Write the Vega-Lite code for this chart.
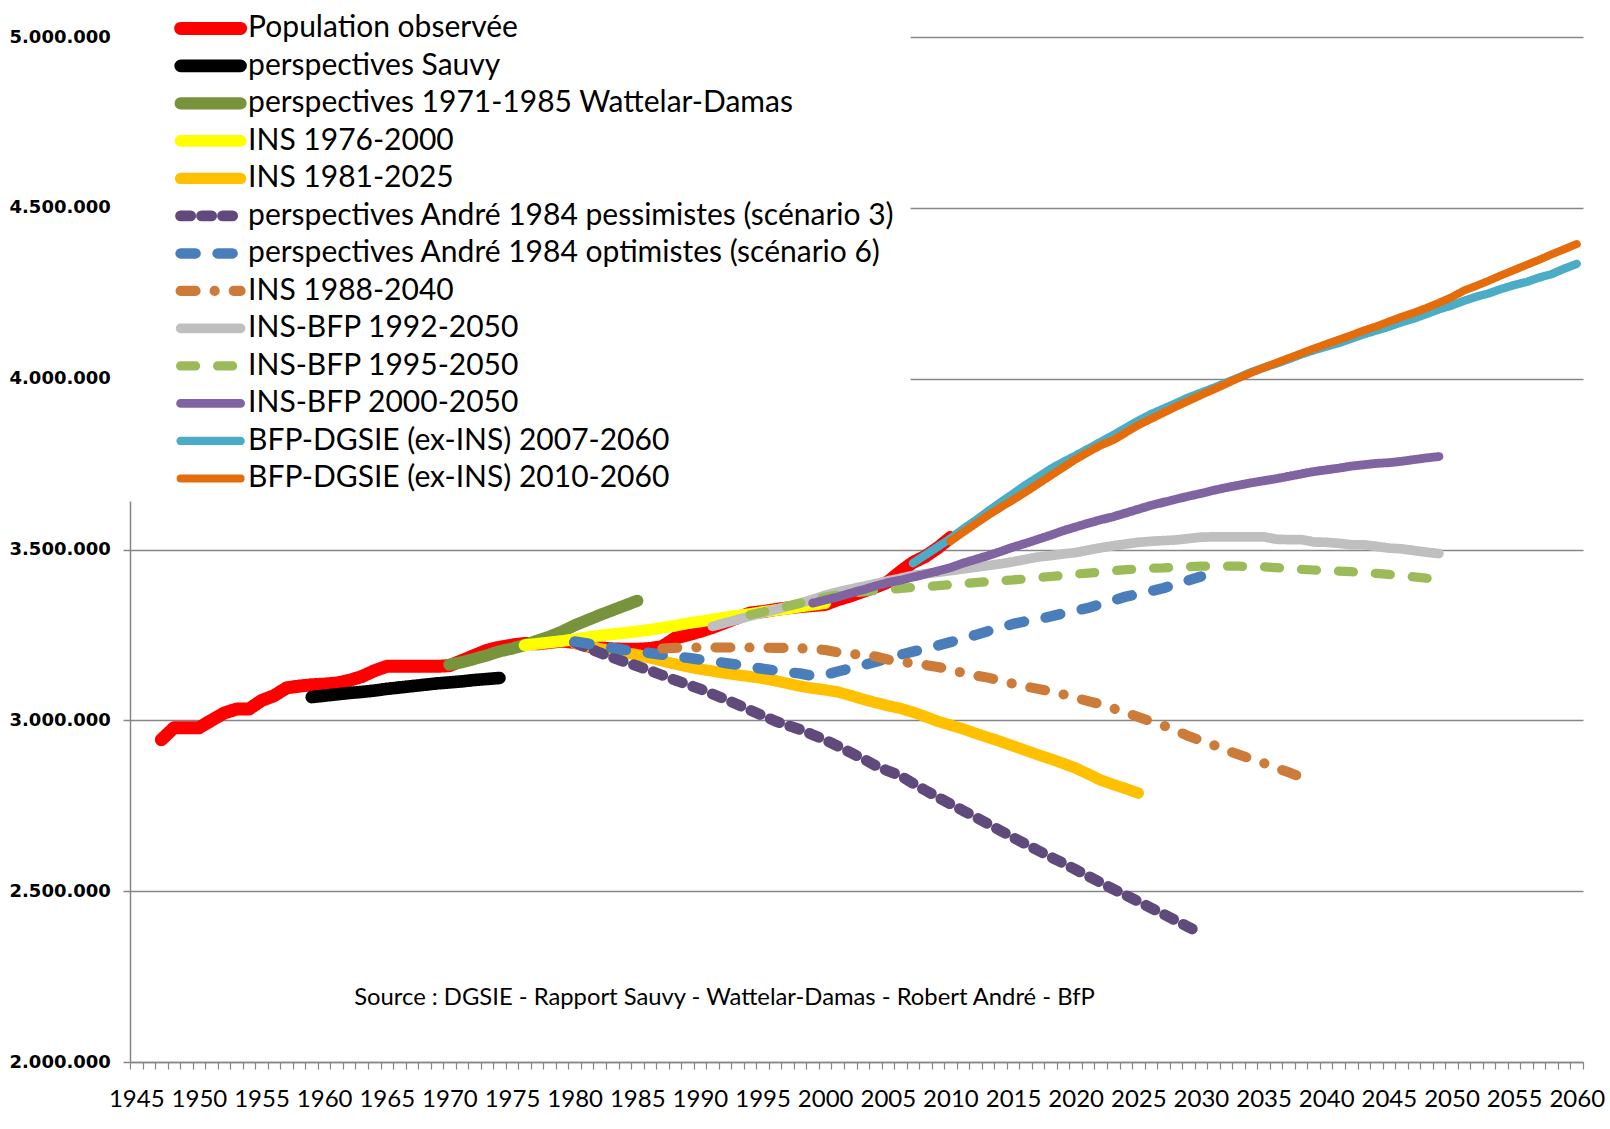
{
"$schema": "https://vega.github.io/schema/vega-lite/v6.json",
"width": 1453, "height": 1025,
"autosize": {"type": "none"},
"padding": {"left": 130, "top": 37, "right": 27, "bottom": 67},
"background": "white",
"config": {"view": {"stroke": null}, "locale": {"number": {"decimal": ",", "thousands": ".", "grouping": [3], "currency": ["", " €"]}}},
"data": {"values": [
{"s":"obs","x":1947,"v":2943000},{"s":"obs","x":1948,"v":2978000},{"s":"obs","x":1949,"v":2978000},{"s":"obs","x":1950,"v":2978000},{"s":"obs","x":1951,"v":3000000},{"s":"obs","x":1952,"v":3021000},{"s":"obs","x":1953,"v":3033000},{"s":"obs","x":1954,"v":3033000},{"s":"obs","x":1955,"v":3058000},{"s":"obs","x":1956,"v":3072000},{"s":"obs","x":1957,"v":3095000},{"s":"obs","x":1958,"v":3100000},{"s":"obs","x":1959,"v":3104000},{"s":"obs","x":1960,"v":3106000},{"s":"obs","x":1961,"v":3109000},{"s":"obs","x":1962,"v":3117000},{"s":"obs","x":1963,"v":3128000},{"s":"obs","x":1964,"v":3145000},{"s":"obs","x":1965,"v":3158000},{"s":"obs","x":1966,"v":3158000},{"s":"obs","x":1967,"v":3158000},{"s":"obs","x":1968,"v":3158000},{"s":"obs","x":1969,"v":3158000},{"s":"obs","x":1970,"v":3160000},{"s":"obs","x":1971,"v":3175000},{"s":"obs","x":1972,"v":3190000},{"s":"obs","x":1973,"v":3205000},{"s":"obs","x":1974,"v":3214000},{"s":"obs","x":1975,"v":3220000},{"s":"obs","x":1976,"v":3225000},{"s":"obs","x":1977,"v":3224000},{"s":"obs","x":1978,"v":3228000},{"s":"obs","x":1979,"v":3232000},{"s":"obs","x":1980,"v":3228000},{"s":"obs","x":1981,"v":3218000},{"s":"obs","x":1982,"v":3212000},{"s":"obs","x":1983,"v":3209000},{"s":"obs","x":1984,"v":3208000},{"s":"obs","x":1985,"v":3208000},{"s":"obs","x":1986,"v":3210000},{"s":"obs","x":1987,"v":3216000},{"s":"obs","x":1988,"v":3240000},{"s":"obs","x":1989,"v":3250000},{"s":"obs","x":1990,"v":3260000},{"s":"obs","x":1991,"v":3272000},{"s":"obs","x":1992,"v":3286000},{"s":"obs","x":1993,"v":3300000},{"s":"obs","x":1994,"v":3314000},{"s":"obs","x":1995,"v":3318000},{"s":"obs","x":1996,"v":3324000},{"s":"obs","x":1997,"v":3329000},{"s":"obs","x":1998,"v":3333000},{"s":"obs","x":1999,"v":3336000},{"s":"obs","x":2000,"v":3339000},{"s":"obs","x":2001,"v":3353000},{"s":"obs","x":2002,"v":3364000},{"s":"obs","x":2003,"v":3377000},{"s":"obs","x":2004,"v":3390000},{"s":"obs","x":2005,"v":3405000},{"s":"obs","x":2006,"v":3435000},{"s":"obs","x":2007,"v":3462000},{"s":"obs","x":2008,"v":3480000},{"s":"obs","x":2009,"v":3505000},{"s":"obs","x":2010,"v":3535000},
{"s":"sauvy","x":1959,"v":3068000},{"s":"sauvy","x":1960,"v":3072000},{"s":"sauvy","x":1961,"v":3076000},{"s":"sauvy","x":1962,"v":3080000},{"s":"sauvy","x":1963,"v":3083000},{"s":"sauvy","x":1964,"v":3087000},{"s":"sauvy","x":1965,"v":3092000},{"s":"sauvy","x":1966,"v":3096000},{"s":"sauvy","x":1967,"v":3100000},{"s":"sauvy","x":1968,"v":3104000},{"s":"sauvy","x":1969,"v":3108000},{"s":"sauvy","x":1970,"v":3111000},{"s":"sauvy","x":1971,"v":3114000},{"s":"sauvy","x":1972,"v":3118000},{"s":"sauvy","x":1973,"v":3121000},{"s":"sauvy","x":1974,"v":3124000},
{"s":"wd","x":1970,"v":3163000},{"s":"wd","x":1971,"v":3170000},{"s":"wd","x":1972,"v":3180000},{"s":"wd","x":1973,"v":3190000},{"s":"wd","x":1974,"v":3202000},{"s":"wd","x":1975,"v":3210000},{"s":"wd","x":1976,"v":3220000},{"s":"wd","x":1977,"v":3233000},{"s":"wd","x":1978,"v":3245000},{"s":"wd","x":1979,"v":3260000},{"s":"wd","x":1980,"v":3278000},{"s":"wd","x":1981,"v":3293000},{"s":"wd","x":1982,"v":3308000},{"s":"wd","x":1983,"v":3322000},{"s":"wd","x":1984,"v":3336000},{"s":"wd","x":1985,"v":3350000},
{"s":"i76","x":1976,"v":3220000},{"s":"i76","x":1977,"v":3224000},{"s":"i76","x":1978,"v":3228000},{"s":"i76","x":1979,"v":3232000},{"s":"i76","x":1980,"v":3237000},{"s":"i76","x":1981,"v":3243000},{"s":"i76","x":1982,"v":3248000},{"s":"i76","x":1983,"v":3252000},{"s":"i76","x":1984,"v":3256000},{"s":"i76","x":1985,"v":3260000},{"s":"i76","x":1986,"v":3265000},{"s":"i76","x":1987,"v":3271000},{"s":"i76","x":1988,"v":3277000},{"s":"i76","x":1989,"v":3284000},{"s":"i76","x":1990,"v":3289000},{"s":"i76","x":1991,"v":3295000},{"s":"i76","x":1992,"v":3301000},{"s":"i76","x":1993,"v":3306000},{"s":"i76","x":1994,"v":3311000},{"s":"i76","x":1995,"v":3317000},{"s":"i76","x":1996,"v":3322000},{"s":"i76","x":1997,"v":3327000},{"s":"i76","x":1998,"v":3333000},{"s":"i76","x":1999,"v":3338000},{"s":"i76","x":2000,"v":3343000},
{"s":"i81","x":1980,"v":3226000},{"s":"i81","x":1981,"v":3218000},{"s":"i81","x":1982,"v":3210000},{"s":"i81","x":1983,"v":3203000},{"s":"i81","x":1984,"v":3197000},{"s":"i81","x":1985,"v":3192000},{"s":"i81","x":1986,"v":3183000},{"s":"i81","x":1987,"v":3174000},{"s":"i81","x":1988,"v":3165000},{"s":"i81","x":1989,"v":3157000},{"s":"i81","x":1990,"v":3150000},{"s":"i81","x":1991,"v":3144000},{"s":"i81","x":1992,"v":3138000},{"s":"i81","x":1993,"v":3133000},{"s":"i81","x":1994,"v":3128000},{"s":"i81","x":1995,"v":3123000},{"s":"i81","x":1996,"v":3116000},{"s":"i81","x":1997,"v":3108000},{"s":"i81","x":1998,"v":3100000},{"s":"i81","x":1999,"v":3094000},{"s":"i81","x":2000,"v":3089000},{"s":"i81","x":2001,"v":3083000},{"s":"i81","x":2002,"v":3073000},{"s":"i81","x":2003,"v":3062000},{"s":"i81","x":2004,"v":3052000},{"s":"i81","x":2005,"v":3043000},{"s":"i81","x":2006,"v":3035000},{"s":"i81","x":2007,"v":3024000},{"s":"i81","x":2008,"v":3011000},{"s":"i81","x":2009,"v":2997000},{"s":"i81","x":2010,"v":2986000},{"s":"i81","x":2011,"v":2975000},{"s":"i81","x":2012,"v":2962000},{"s":"i81","x":2013,"v":2950000},{"s":"i81","x":2014,"v":2938000},{"s":"i81","x":2015,"v":2925000},{"s":"i81","x":2016,"v":2912000},{"s":"i81","x":2017,"v":2899000},{"s":"i81","x":2018,"v":2887000},{"s":"i81","x":2019,"v":2874000},{"s":"i81","x":2020,"v":2860000},{"s":"i81","x":2021,"v":2843000},{"s":"i81","x":2022,"v":2825000},{"s":"i81","x":2023,"v":2812000},{"s":"i81","x":2024,"v":2800000},{"s":"i81","x":2025,"v":2787000},
{"s":"a3","x":1980,"v":3228000},{"s":"a3","x":1981,"v":3213000},{"s":"a3","x":1982,"v":3198000},{"s":"a3","x":1983,"v":3184000},{"s":"a3","x":1984,"v":3171000},{"s":"a3","x":1985,"v":3159000},{"s":"a3","x":1986,"v":3146000},{"s":"a3","x":1987,"v":3132000},{"s":"a3","x":1988,"v":3118000},{"s":"a3","x":1989,"v":3105000},{"s":"a3","x":1990,"v":3092000},{"s":"a3","x":1991,"v":3077000},{"s":"a3","x":1992,"v":3062000},{"s":"a3","x":1993,"v":3046000},{"s":"a3","x":1994,"v":3030000},{"s":"a3","x":1995,"v":3014000},{"s":"a3","x":1996,"v":2998000},{"s":"a3","x":1997,"v":2985000},{"s":"a3","x":1998,"v":2973000},{"s":"a3","x":1999,"v":2958000},{"s":"a3","x":2000,"v":2942000},{"s":"a3","x":2001,"v":2925000},{"s":"a3","x":2002,"v":2906000},{"s":"a3","x":2003,"v":2888000},{"s":"a3","x":2004,"v":2868000},{"s":"a3","x":2005,"v":2852000},{"s":"a3","x":2006,"v":2838000},{"s":"a3","x":2007,"v":2816000},{"s":"a3","x":2008,"v":2795000},{"s":"a3","x":2009,"v":2775000},{"s":"a3","x":2010,"v":2755000},{"s":"a3","x":2011,"v":2736000},{"s":"a3","x":2012,"v":2717000},{"s":"a3","x":2013,"v":2697000},{"s":"a3","x":2014,"v":2677000},{"s":"a3","x":2015,"v":2657000},{"s":"a3","x":2016,"v":2638000},{"s":"a3","x":2017,"v":2619000},{"s":"a3","x":2018,"v":2600000},{"s":"a3","x":2019,"v":2582000},{"s":"a3","x":2020,"v":2563000},{"s":"a3","x":2021,"v":2544000},{"s":"a3","x":2022,"v":2525000},{"s":"a3","x":2023,"v":2506000},{"s":"a3","x":2024,"v":2488000},{"s":"a3","x":2025,"v":2470000},{"s":"a3","x":2026,"v":2451000},{"s":"a3","x":2027,"v":2433000},{"s":"a3","x":2028,"v":2414000},{"s":"a3","x":2029,"v":2395000},{"s":"a3","x":2030,"v":2377000},
{"s":"a6","x":1980,"v":3231000},{"s":"a6","x":1981,"v":3225000},{"s":"a6","x":1982,"v":3219000},{"s":"a6","x":1983,"v":3212000},{"s":"a6","x":1984,"v":3206000},{"s":"a6","x":1985,"v":3201000},{"s":"a6","x":1986,"v":3197000},{"s":"a6","x":1987,"v":3192000},{"s":"a6","x":1988,"v":3187000},{"s":"a6","x":1989,"v":3183000},{"s":"a6","x":1990,"v":3178000},{"s":"a6","x":1991,"v":3173000},{"s":"a6","x":1992,"v":3168000},{"s":"a6","x":1993,"v":3163000},{"s":"a6","x":1994,"v":3157000},{"s":"a6","x":1995,"v":3151000},{"s":"a6","x":1996,"v":3146000},{"s":"a6","x":1997,"v":3141000},{"s":"a6","x":1998,"v":3137000},{"s":"a6","x":1999,"v":3130000},{"s":"a6","x":2000,"v":3133000},{"s":"a6","x":2001,"v":3143000},{"s":"a6","x":2002,"v":3152000},{"s":"a6","x":2003,"v":3161000},{"s":"a6","x":2004,"v":3171000},{"s":"a6","x":2005,"v":3182000},{"s":"a6","x":2006,"v":3192000},{"s":"a6","x":2007,"v":3201000},{"s":"a6","x":2008,"v":3210000},{"s":"a6","x":2009,"v":3219000},{"s":"a6","x":2010,"v":3229000},{"s":"a6","x":2011,"v":3239000},{"s":"a6","x":2012,"v":3250000},{"s":"a6","x":2013,"v":3261000},{"s":"a6","x":2014,"v":3272000},{"s":"a6","x":2015,"v":3282000},{"s":"a6","x":2016,"v":3290000},{"s":"a6","x":2017,"v":3296000},{"s":"a6","x":2018,"v":3304000},{"s":"a6","x":2019,"v":3313000},{"s":"a6","x":2020,"v":3321000},{"s":"a6","x":2021,"v":3329000},{"s":"a6","x":2022,"v":3340000},{"s":"a6","x":2023,"v":3351000},{"s":"a6","x":2024,"v":3362000},{"s":"a6","x":2025,"v":3370000},{"s":"a6","x":2026,"v":3378000},{"s":"a6","x":2027,"v":3387000},{"s":"a6","x":2028,"v":3398000},{"s":"a6","x":2029,"v":3410000},{"s":"a6","x":2030,"v":3421000},
{"s":"i88","x":1987,"v":3210000},{"s":"i88","x":1988,"v":3212000},{"s":"i88","x":1989,"v":3213000},{"s":"i88","x":1990,"v":3213000},{"s":"i88","x":1991,"v":3213000},{"s":"i88","x":1992,"v":3213000},{"s":"i88","x":1993,"v":3213000},{"s":"i88","x":1994,"v":3213000},{"s":"i88","x":1995,"v":3213000},{"s":"i88","x":1996,"v":3212000},{"s":"i88","x":1997,"v":3212000},{"s":"i88","x":1998,"v":3211000},{"s":"i88","x":1999,"v":3209000},{"s":"i88","x":2000,"v":3206000},{"s":"i88","x":2001,"v":3199000},{"s":"i88","x":2002,"v":3195000},{"s":"i88","x":2003,"v":3191000},{"s":"i88","x":2004,"v":3187000},{"s":"i88","x":2005,"v":3178000},{"s":"i88","x":2006,"v":3171000},{"s":"i88","x":2007,"v":3167000},{"s":"i88","x":2008,"v":3162000},{"s":"i88","x":2009,"v":3156000},{"s":"i88","x":2010,"v":3148000},{"s":"i88","x":2011,"v":3139000},{"s":"i88","x":2012,"v":3131000},{"s":"i88","x":2013,"v":3125000},{"s":"i88","x":2014,"v":3116000},{"s":"i88","x":2015,"v":3107000},{"s":"i88","x":2016,"v":3099000},{"s":"i88","x":2017,"v":3092000},{"s":"i88","x":2018,"v":3085000},{"s":"i88","x":2019,"v":3076000},{"s":"i88","x":2020,"v":3066000},{"s":"i88","x":2021,"v":3056000},{"s":"i88","x":2022,"v":3047000},{"s":"i88","x":2023,"v":3035000},{"s":"i88","x":2024,"v":3022000},{"s":"i88","x":2025,"v":3010000},{"s":"i88","x":2026,"v":2997000},{"s":"i88","x":2027,"v":2985000},{"s":"i88","x":2028,"v":2970000},{"s":"i88","x":2029,"v":2954000},{"s":"i88","x":2030,"v":2941000},{"s":"i88","x":2031,"v":2928000},{"s":"i88","x":2032,"v":2913000},{"s":"i88","x":2033,"v":2900000},{"s":"i88","x":2034,"v":2887000},{"s":"i88","x":2035,"v":2875000},{"s":"i88","x":2036,"v":2861000},{"s":"i88","x":2037,"v":2848000},{"s":"i88","x":2038,"v":2834000},
{"s":"b92","x":1991,"v":3275000},{"s":"b92","x":1992,"v":3285000},{"s":"b92","x":1993,"v":3295000},{"s":"b92","x":1994,"v":3305000},{"s":"b92","x":1995,"v":3315000},{"s":"b92","x":1996,"v":3324000},{"s":"b92","x":1997,"v":3334000},{"s":"b92","x":1998,"v":3343000},{"s":"b92","x":1999,"v":3354000},{"s":"b92","x":2000,"v":3366000},{"s":"b92","x":2001,"v":3376000},{"s":"b92","x":2002,"v":3384000},{"s":"b92","x":2003,"v":3392000},{"s":"b92","x":2004,"v":3400000},{"s":"b92","x":2005,"v":3408000},{"s":"b92","x":2006,"v":3416000},{"s":"b92","x":2007,"v":3424000},{"s":"b92","x":2008,"v":3429000},{"s":"b92","x":2009,"v":3433000},{"s":"b92","x":2010,"v":3438000},{"s":"b92","x":2011,"v":3443000},{"s":"b92","x":2012,"v":3448000},{"s":"b92","x":2013,"v":3453000},{"s":"b92","x":2014,"v":3458000},{"s":"b92","x":2015,"v":3464000},{"s":"b92","x":2016,"v":3471000},{"s":"b92","x":2017,"v":3478000},{"s":"b92","x":2018,"v":3482000},{"s":"b92","x":2019,"v":3487000},{"s":"b92","x":2020,"v":3491000},{"s":"b92","x":2021,"v":3498000},{"s":"b92","x":2022,"v":3505000},{"s":"b92","x":2023,"v":3511000},{"s":"b92","x":2024,"v":3516000},{"s":"b92","x":2025,"v":3521000},{"s":"b92","x":2026,"v":3524000},{"s":"b92","x":2027,"v":3526000},{"s":"b92","x":2028,"v":3528000},{"s":"b92","x":2029,"v":3532000},{"s":"b92","x":2030,"v":3536000},{"s":"b92","x":2031,"v":3537000},{"s":"b92","x":2032,"v":3537000},{"s":"b92","x":2033,"v":3537000},{"s":"b92","x":2034,"v":3537000},{"s":"b92","x":2035,"v":3537000},{"s":"b92","x":2036,"v":3530000},{"s":"b92","x":2037,"v":3529000},{"s":"b92","x":2038,"v":3529000},{"s":"b92","x":2039,"v":3522000},{"s":"b92","x":2040,"v":3521000},{"s":"b92","x":2041,"v":3518000},{"s":"b92","x":2042,"v":3514000},{"s":"b92","x":2043,"v":3514000},{"s":"b92","x":2044,"v":3509000},{"s":"b92","x":2045,"v":3504000},{"s":"b92","x":2046,"v":3502000},{"s":"b92","x":2047,"v":3497000},{"s":"b92","x":2048,"v":3492000},{"s":"b92","x":2049,"v":3488000},
{"s":"b95","x":1994,"v":3309000},{"s":"b95","x":1995,"v":3317000},{"s":"b95","x":1996,"v":3326000},{"s":"b95","x":1997,"v":3334000},{"s":"b95","x":1998,"v":3343000},{"s":"b95","x":1999,"v":3352000},{"s":"b95","x":2000,"v":3361000},{"s":"b95","x":2001,"v":3367000},{"s":"b95","x":2002,"v":3372000},{"s":"b95","x":2003,"v":3376000},{"s":"b95","x":2004,"v":3380000},{"s":"b95","x":2005,"v":3383000},{"s":"b95","x":2006,"v":3386000},{"s":"b95","x":2007,"v":3389000},{"s":"b95","x":2008,"v":3392000},{"s":"b95","x":2009,"v":3394000},{"s":"b95","x":2010,"v":3397000},{"s":"b95","x":2011,"v":3400000},{"s":"b95","x":2012,"v":3403000},{"s":"b95","x":2013,"v":3406000},{"s":"b95","x":2014,"v":3409000},{"s":"b95","x":2015,"v":3411000},{"s":"b95","x":2016,"v":3414000},{"s":"b95","x":2017,"v":3418000},{"s":"b95","x":2018,"v":3421000},{"s":"b95","x":2019,"v":3424000},{"s":"b95","x":2020,"v":3428000},{"s":"b95","x":2021,"v":3431000},{"s":"b95","x":2022,"v":3434000},{"s":"b95","x":2023,"v":3438000},{"s":"b95","x":2024,"v":3441000},{"s":"b95","x":2025,"v":3443000},{"s":"b95","x":2026,"v":3445000},{"s":"b95","x":2027,"v":3446000},{"s":"b95","x":2028,"v":3448000},{"s":"b95","x":2029,"v":3450000},{"s":"b95","x":2030,"v":3451000},{"s":"b95","x":2031,"v":3451000},{"s":"b95","x":2032,"v":3451000},{"s":"b95","x":2033,"v":3451000},{"s":"b95","x":2034,"v":3450000},{"s":"b95","x":2035,"v":3449000},{"s":"b95","x":2036,"v":3447000},{"s":"b95","x":2037,"v":3445000},{"s":"b95","x":2038,"v":3442000},{"s":"b95","x":2039,"v":3440000},{"s":"b95","x":2040,"v":3438000},{"s":"b95","x":2041,"v":3437000},{"s":"b95","x":2042,"v":3435000},{"s":"b95","x":2043,"v":3432000},{"s":"b95","x":2044,"v":3430000},{"s":"b95","x":2045,"v":3427000},{"s":"b95","x":2046,"v":3423000},{"s":"b95","x":2047,"v":3420000},{"s":"b95","x":2048,"v":3416000},{"s":"b95","x":2049,"v":3413000},
{"s":"b00","x":1999,"v":3343000},{"s":"b00","x":2000,"v":3352000},{"s":"b00","x":2001,"v":3361000},{"s":"b00","x":2002,"v":3372000},{"s":"b00","x":2003,"v":3382000},{"s":"b00","x":2004,"v":3393000},{"s":"b00","x":2005,"v":3403000},{"s":"b00","x":2006,"v":3410000},{"s":"b00","x":2007,"v":3419000},{"s":"b00","x":2008,"v":3428000},{"s":"b00","x":2009,"v":3437000},{"s":"b00","x":2010,"v":3447000},{"s":"b00","x":2011,"v":3460000},{"s":"b00","x":2012,"v":3471000},{"s":"b00","x":2013,"v":3482000},{"s":"b00","x":2014,"v":3494000},{"s":"b00","x":2015,"v":3507000},{"s":"b00","x":2016,"v":3518000},{"s":"b00","x":2017,"v":3530000},{"s":"b00","x":2018,"v":3542000},{"s":"b00","x":2019,"v":3555000},{"s":"b00","x":2020,"v":3566000},{"s":"b00","x":2021,"v":3577000},{"s":"b00","x":2022,"v":3587000},{"s":"b00","x":2023,"v":3596000},{"s":"b00","x":2024,"v":3607000},{"s":"b00","x":2025,"v":3618000},{"s":"b00","x":2026,"v":3629000},{"s":"b00","x":2027,"v":3638000},{"s":"b00","x":2028,"v":3647000},{"s":"b00","x":2029,"v":3656000},{"s":"b00","x":2030,"v":3664000},{"s":"b00","x":2031,"v":3673000},{"s":"b00","x":2032,"v":3681000},{"s":"b00","x":2033,"v":3688000},{"s":"b00","x":2034,"v":3695000},{"s":"b00","x":2035,"v":3701000},{"s":"b00","x":2036,"v":3707000},{"s":"b00","x":2037,"v":3714000},{"s":"b00","x":2038,"v":3721000},{"s":"b00","x":2039,"v":3728000},{"s":"b00","x":2040,"v":3733000},{"s":"b00","x":2041,"v":3738000},{"s":"b00","x":2042,"v":3744000},{"s":"b00","x":2043,"v":3748000},{"s":"b00","x":2044,"v":3752000},{"s":"b00","x":2045,"v":3754000},{"s":"b00","x":2046,"v":3758000},{"s":"b00","x":2047,"v":3763000},{"s":"b00","x":2048,"v":3768000},{"s":"b00","x":2049,"v":3772000},
{"s":"b07","x":2007,"v":3460000},{"s":"b07","x":2008,"v":3484000},{"s":"b07","x":2009,"v":3508000},{"s":"b07","x":2010,"v":3532000},{"s":"b07","x":2011,"v":3560000},{"s":"b07","x":2012,"v":3585000},{"s":"b07","x":2013,"v":3612000},{"s":"b07","x":2014,"v":3638000},{"s":"b07","x":2015,"v":3663000},{"s":"b07","x":2016,"v":3689000},{"s":"b07","x":2017,"v":3712000},{"s":"b07","x":2018,"v":3736000},{"s":"b07","x":2019,"v":3756000},{"s":"b07","x":2020,"v":3775000},{"s":"b07","x":2021,"v":3795000},{"s":"b07","x":2022,"v":3815000},{"s":"b07","x":2023,"v":3835000},{"s":"b07","x":2024,"v":3856000},{"s":"b07","x":2025,"v":3877000},{"s":"b07","x":2026,"v":3896000},{"s":"b07","x":2027,"v":3912000},{"s":"b07","x":2028,"v":3928000},{"s":"b07","x":2029,"v":3945000},{"s":"b07","x":2030,"v":3959000},{"s":"b07","x":2031,"v":3973000},{"s":"b07","x":2032,"v":3988000},{"s":"b07","x":2033,"v":4003000},{"s":"b07","x":2034,"v":4019000},{"s":"b07","x":2035,"v":4032000},{"s":"b07","x":2036,"v":4044000},{"s":"b07","x":2037,"v":4057000},{"s":"b07","x":2038,"v":4071000},{"s":"b07","x":2039,"v":4083000},{"s":"b07","x":2040,"v":4094000},{"s":"b07","x":2041,"v":4104000},{"s":"b07","x":2042,"v":4117000},{"s":"b07","x":2043,"v":4130000},{"s":"b07","x":2044,"v":4141000},{"s":"b07","x":2045,"v":4152000},{"s":"b07","x":2046,"v":4165000},{"s":"b07","x":2047,"v":4176000},{"s":"b07","x":2048,"v":4189000},{"s":"b07","x":2049,"v":4203000},{"s":"b07","x":2050,"v":4214000},{"s":"b07","x":2051,"v":4228000},{"s":"b07","x":2052,"v":4240000},{"s":"b07","x":2053,"v":4250000},{"s":"b07","x":2054,"v":4263000},{"s":"b07","x":2055,"v":4274000},{"s":"b07","x":2056,"v":4283000},{"s":"b07","x":2057,"v":4296000},{"s":"b07","x":2058,"v":4306000},{"s":"b07","x":2059,"v":4322000},{"s":"b07","x":2060,"v":4336000},
{"s":"b10","x":2010,"v":3524000},{"s":"b10","x":2011,"v":3550000},{"s":"b10","x":2012,"v":3575000},{"s":"b10","x":2013,"v":3600000},{"s":"b10","x":2014,"v":3623000},{"s":"b10","x":2015,"v":3645000},{"s":"b10","x":2016,"v":3668000},{"s":"b10","x":2017,"v":3692000},{"s":"b10","x":2018,"v":3716000},{"s":"b10","x":2019,"v":3740000},{"s":"b10","x":2020,"v":3764000},{"s":"b10","x":2021,"v":3785000},{"s":"b10","x":2022,"v":3805000},{"s":"b10","x":2023,"v":3820000},{"s":"b10","x":2024,"v":3842000},{"s":"b10","x":2025,"v":3864000},{"s":"b10","x":2026,"v":3882000},{"s":"b10","x":2027,"v":3900000},{"s":"b10","x":2028,"v":3918000},{"s":"b10","x":2029,"v":3935000},{"s":"b10","x":2030,"v":3952000},{"s":"b10","x":2031,"v":3968000},{"s":"b10","x":2032,"v":3985000},{"s":"b10","x":2033,"v":4002000},{"s":"b10","x":2034,"v":4017000},{"s":"b10","x":2035,"v":4032000},{"s":"b10","x":2036,"v":4046000},{"s":"b10","x":2037,"v":4060000},{"s":"b10","x":2038,"v":4074000},{"s":"b10","x":2039,"v":4088000},{"s":"b10","x":2040,"v":4101000},{"s":"b10","x":2041,"v":4114000},{"s":"b10","x":2042,"v":4127000},{"s":"b10","x":2043,"v":4141000},{"s":"b10","x":2044,"v":4153000},{"s":"b10","x":2045,"v":4167000},{"s":"b10","x":2046,"v":4181000},{"s":"b10","x":2047,"v":4193000},{"s":"b10","x":2048,"v":4207000},{"s":"b10","x":2049,"v":4222000},{"s":"b10","x":2050,"v":4238000},{"s":"b10","x":2051,"v":4258000},{"s":"b10","x":2052,"v":4272000},{"s":"b10","x":2053,"v":4287000},{"s":"b10","x":2054,"v":4303000},{"s":"b10","x":2055,"v":4318000},{"s":"b10","x":2056,"v":4333000},{"s":"b10","x":2057,"v":4348000},{"s":"b10","x":2058,"v":4364000},{"s":"b10","x":2059,"v":4379000},{"s":"b10","x":2060,"v":4394000}
]},
"layer": [
{"mark": {"type": "line", "strokeCap": "round", "strokeJoin": "round"},
 "encoding": {
  "x": {"field": "x", "type": "quantitative",
   "scale": {"domain": [1944.5, 2060.5], "nice": false, "zero": false},
   "axis": {"title": null, "grid": false, "tickCount": 300,
    "values": [1944.5,1945.5,1946.5,1947.5,1948.5,1949.5,1950.5,1951.5,1952.5,1953.5,1954.5,1955.5,1956.5,1957.5,1958.5,1959.5,1960.5,1961.5,1962.5,1963.5,1964.5,1965.5,1966.5,1967.5,1968.5,1969.5,1970.5,1971.5,1972.5,1973.5,1974.5,1975.5,1976.5,1977.5,1978.5,1979.5,1980.5,1981.5,1982.5,1983.5,1984.5,1985.5,1986.5,1987.5,1988.5,1989.5,1990.5,1991.5,1992.5,1993.5,1994.5,1995.5,1996.5,1997.5,1998.5,1999.5,2000.5,2001.5,2002.5,2003.5,2004.5,2005.5,2006.5,2007.5,2008.5,2009.5,2010.5,2011.5,2012.5,2013.5,2014.5,2015.5,2016.5,2017.5,2018.5,2019.5,2020.5,2021.5,2022.5,2023.5,2024.5,2025.5,2026.5,2027.5,2028.5,2029.5,2030.5,2031.5,2032.5,2033.5,2034.5,2035.5,2036.5,2037.5,2038.5,2039.5,2040.5,2041.5,2042.5,2043.5,2044.5,2045.5,2046.5,2047.5,2048.5,2049.5,2050.5,2051.5,2052.5,2053.5,2054.5,2055.5,2056.5,2057.5,2058.5,2059.5,2060.5],
    "labelExpr": "(datum.value + 0.5) % 5 == 0 ? format(datum.value + 0.5, 'd') : ''",
    "labelOffset": 6.26, "labelFont": "Lato", "labelFontSize": 24, "labelColor": "black",
    "labelOverlap": false, "labelFlush": false, "labelBound": false, "labelPadding": 18,
    "tickSize": 7, "tickColor": "#868686", "tickWidth": 1.2, "domainColor": "#868686", "domainWidth": 1.5}},
  "y": {"field": "v", "type": "quantitative",
   "scale": {"domain": [2000000, 5000000], "nice": false, "zero": false},
   "axis": {"title": null, "values": [2000000, 2500000, 3000000, 3500000, 4000000, 4500000, 5000000], "tickCount": 30,
    "format": ",d", "labelFont": "DejaVu Sans", "labelFontWeight": "bold", "labelFontSize": 18, "labelColor": "black",
    "labelAlign": "left", "labelBaseline": "middle", "labelPadding": 114, "labelFlush": false, "labelBound": false, "labelOverlap": false,
    "tickSize": 7, "tickColor": "#868686", "tickWidth": 1.5, "domainColor": "#868686", "domainWidth": 1.5,
    "grid": true, "gridColor": "#868686", "gridWidth": 1.5}},
  "color": {"field": "s", "type": "nominal",
   "scale": {"domain": ["obs","sauvy","wd","i76","i81","a3","a6","i88","b92","b95","b00","b07","b10"],
    "range": ["#FF0000","#000000","#77933C","#FFFF00","#FFC000","#604A7B","#4A7EBB","#CD7B38","#BFBFBF","#9BBB59","#8064A2","#4BACC6","#E46C0A"]},
   "legend": {"title": ".", "titleOrient": "left", "titleColor": "white", "titleFontSize": 10, "titleFont": "Lato", "titlePadding": 40.5,
    "orient": "none", "legendX": -7.4, "legendY": -31.6, "direction": "vertical",
    "padding": 8, "fillColor": "white", "symbolType": "stroke", "symbolSize": 3600, "clipHeight": 30, "rowPadding": 7.5,
    "labelFont": "Lato", "labelFontSize": 30, "labelColor": "black", "labelLimit": 3000, "labelOffset": 1, "symbolOpacity": 1,
    "labelExpr": "datum.label == 'obs' ? 'Population observée' : datum.label == 'sauvy' ? 'perspectives Sauvy' : datum.label == 'wd' ? 'perspectives 1971-1985 Wattelar-Damas' : datum.label == 'i76' ? 'INS 1976-2000' : datum.label == 'i81' ? 'INS 1981-2025' : datum.label == 'a3' ? 'perspectives André 1984 pessimistes  (scénario 3)\u2003\u2003' : datum.label == 'a6' ? 'perspectives André 1984 optimistes  (scénario 6)' : datum.label == 'i88' ? 'INS  1988-2040' : datum.label == 'b92' ? 'INS-BFP 1992-2050' : datum.label == 'b95' ? 'INS-BFP 1995-2050' : datum.label == 'b00' ? 'INS-BFP 2000-2050' : datum.label == 'b07' ? 'BFP-DGSIE (ex-INS) 2007-2060' : 'BFP-DGSIE (ex-INS)  2010-2060'",
    "encode": {"symbols": {"update": {"strokeCap": {"value": "round"}}}}}},
  "strokeDash": {"field": "s", "type": "nominal",
   "scale": {"domain": ["obs","sauvy","wd","i76","i81","a3","a6","i88","b92","b95","b00","b07","b10"],
    "range": [[1,0],[1,0],[1,0],[1,0],[1,0],[10,11],[15,22],[15,19,0.1,19],[1,0],[15,22],[1,0],[1,0],[1,0]]}},
  "strokeWidth": {"field": "s", "type": "nominal",
   "scale": {"domain": ["obs","sauvy","wd","i76","i81","a3","a6","i88","b92","b95","b00","b07","b10"],
    "range": [13, 8, 5, 5, 5, 5, 5, 5, 5, 5, 5, 5, 5]}}
 }},
{"data": {"values": [{}]},
 "mark": {"type": "text", "align": "left", "baseline": "middle", "font": "Lato", "fontSize": 23.8, "color": "black"},
 "encoding": {"x": {"datum": 1962.4}, "y": {"datum": 2188000}, "text": {"value": "Source :  DGSIE - Rapport Sauvy - Wattelar-Damas - Robert André - BfP"}}}
]
}
